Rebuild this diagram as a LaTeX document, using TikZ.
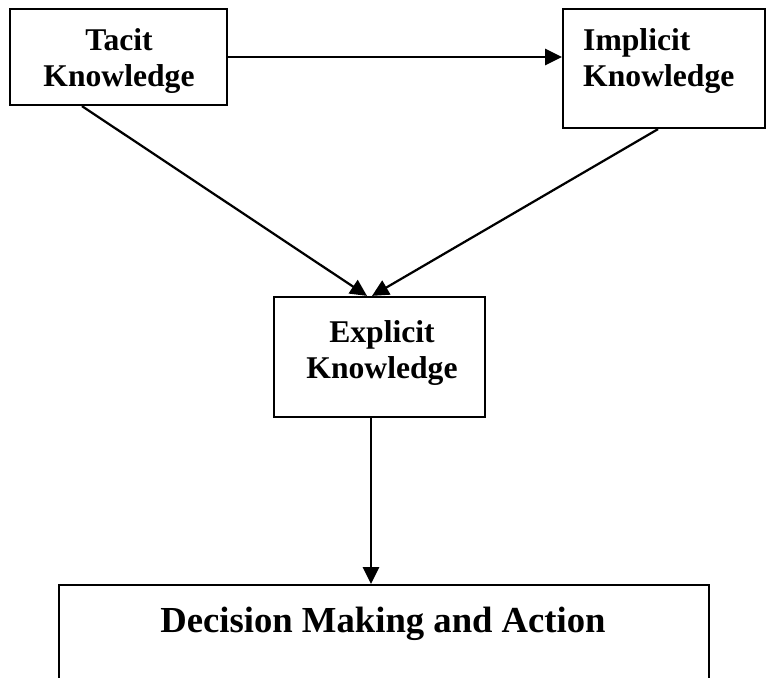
\documentclass[tikz,border=0pt]{standalone}
\usepackage{fontspec}
\setmainfont{Liberation Serif}
\usetikzlibrary{arrows.meta}

\begin{document}
\begin{tikzpicture}[x=0.03cm,y=-0.03cm,
  box/.style={draw,line width=1.9pt,rectangle,inner sep=0pt},
  lbl/.style={inner sep=0pt,font=\fontsize{27}{31}\bfseries\selectfont},
  arr/.style={line width=1.9pt,-{Triangle[length=0.5cm,width=0.48cm]}}]
\clip (0,0) rectangle (766,677);

\node[box,minimum width=6.51cm,minimum height=2.88cm] (tacit) at (118.5,57) {};
\node[lbl,align=center,anchor=north] (tacittxt) at (119,28) {Tacit\\Knowledge};

\node[box,minimum width=6.06cm,minimum height=3.57cm] (implicit) at (664,68.5) {};
\node[lbl,align=left,anchor=north west] (implicittxt) at (583,28) {Implicit\\Knowledge};

\node[box,minimum width=6.33cm,minimum height=3.6cm] (explicit) at (379.5,357) {};
\node[lbl,align=center,anchor=north] (explicittxt) at (382,320) {Explicit\\Knowledge};

\node[box,minimum width=19.5cm,minimum height=4.5cm] (decision) at (384,660) {};
\node[lbl,anchor=north,font=\fontsize{31.3}{36}\bfseries\selectfont] (decisiontxt) at (383,607) {Decision Making and Action};

\draw[arr] (tacit.east) -- (tacit.east -| implicit.west);
\draw[arr] ([xshift=-1.095cm]tacit.south) -- ([xshift=-0.375cm]explicit.north);
\draw[arr] ([xshift=-0.18cm]implicit.south) -- ([xshift=-0.225cm]explicit.north);
%\draw[arr] (explicit.south) -- (decision.north);
\draw[arr] ([xshift=-0.255cm]explicit.south) -- ([xshift=-0.255cm]explicit.south |- decision.north);

\end{tikzpicture}
\end{document}
